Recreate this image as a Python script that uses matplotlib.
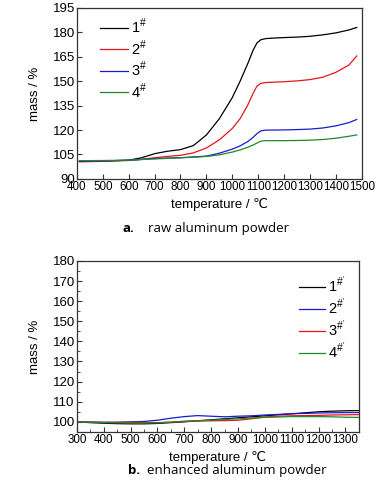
import matplotlib.pyplot as plt
from matplotlib.ticker import MultipleLocator

plt.rcParams['font.family'] = ['Liberation Sans', 'DejaVu Sans']
plt.rcParams['mathtext.fontset'] = 'custom'
plt.rcParams['mathtext.rm'] = 'Liberation Sans'

# panel a: raw aluminum powder
ta = [410, 500, 600, 650, 700, 750, 800, 850, 900, 950, 1000, 1030, 1060, 1080, 1095, 1110, 1130, 1160, 1200, 1250, 1300, 1350, 1400, 1450, 1480]
a1 = [100.8, 101.0, 101.5, 103.0, 105.5, 107.0, 108.0, 110.5, 117.0, 127.0, 140.0, 150.0, 161.0, 169.0, 173.5, 175.5, 176.2, 176.5, 176.8, 177.1, 177.6, 178.5, 179.7, 181.5, 183.0]
a2 = [100.5, 100.8, 101.3, 102.0, 103.0, 103.8, 104.5, 106.0, 109.0, 114.0, 121.0, 127.0, 135.5, 142.5, 147.0, 148.7, 149.2, 149.4, 149.7, 150.2, 151.0, 152.5, 155.5, 160.0, 165.5]
a3 = [100.8, 101.0, 101.5, 102.0, 102.5, 102.8, 103.0, 103.5, 104.0, 105.8, 108.3, 110.3, 113.0, 115.5, 117.8, 119.5, 120.0, 120.0, 120.1, 120.3, 120.6, 121.3, 122.6, 124.6, 126.5]
a4 = [101.2, 101.3, 101.5, 101.9, 102.3, 102.6, 103.0, 103.3, 103.8, 104.8, 106.5, 107.8, 109.5, 110.8, 112.0, 113.2, 113.5, 113.5, 113.5, 113.6, 113.8, 114.2, 115.0, 116.2, 117.0]
labels_a = ['1$^{\\#}$', '2$^{\\#}$', '3$^{\\#}$', '4$^{\\#}$']
colors_a = ['black', '#e8141c', '#1a1ad0', '#1f8a2a']

# panel b: enhanced aluminum powder
tb = [300, 350, 400, 450, 500, 550, 600, 650, 700, 750, 800, 850, 900, 950, 1000, 1050, 1100, 1150, 1200, 1250, 1300, 1350]
b1 = [100.0, 99.6, 99.3, 99.1, 99.0, 99.0, 99.2, 99.6, 100.0, 100.5, 101.0, 101.5, 102.0, 102.5, 103.0, 103.5, 104.0, 104.5, 105.0, 105.3, 105.5, 105.6]
b2 = [100.0, 99.9, 99.8, 99.8, 100.0, 100.2, 100.8, 101.8, 102.6, 103.1, 102.8, 102.5, 102.8, 103.0, 103.4, 103.7, 104.0, 104.2, 104.4, 104.5, 104.6, 104.6]
b3 = [100.0, 99.9, 99.7, 99.7, 99.8, 99.7, 99.6, 99.8, 100.2, 100.4, 100.5, 100.6, 100.8, 101.5, 102.4, 102.8, 103.0, 103.1, 103.2, 103.4, 103.5, 103.6]
b4 = [100.0, 99.8, 99.6, 99.5, 99.4, 99.4, 99.5, 99.9, 100.3, 100.6, 100.8, 101.2, 101.5, 101.9, 102.2, 102.4, 102.6, 102.6, 102.6, 102.5, 102.3, 102.2]
labels_b = ["1$^{\\#'}$", "2$^{\\#'}$", "3$^{\\#'}$", "4$^{\\#'}$"]
colors_b = ['black', '#1a1ad0', '#e8141c', '#1f8a2a']

fig = plt.figure(figsize=(3.9, 4.97), dpi=100)
ax1 = fig.add_axes([0.197, 0.640, 0.731, 0.344])
ax2 = fig.add_axes([0.197, 0.131, 0.723, 0.344])


def style(ax):
    for s in ax.spines.values():
        s.set_color('#333333')
        s.set_linewidth(0.9)
    ax.tick_params(direction='in', which='both', labelsize=9.5, pad=1.5, color='#333333')
    ax.tick_params(axis='x', labelsize=8.4)
    ax.tick_params(which='major', length=3.5)
    ax.tick_params(which='minor', length=2)
    ax.set_xlabel('temperature / ℃', fontsize=9.5, labelpad=3.5)
    ax.set_ylabel('mass / %', fontsize=9.5, labelpad=8)


for ys, c, lab in zip([a1, a2, a3, a4], colors_a, labels_a):
    ax1.plot(ta, ys, color=c, lw=0.9, label=lab)
ax1.set_xlim(400, 1500)
ax1.set_ylim(90, 195)
ax1.xaxis.set_major_locator(MultipleLocator(100))
ax1.yaxis.set_major_locator(MultipleLocator(15))
style(ax1)
ax1.legend(loc='upper left', bbox_to_anchor=(0.035, 1.025), frameon=False, fontsize=10.5,
           handlelength=1.9, handletextpad=0.2, labelspacing=0.15)

for ys, c, lab in zip([b1, b2, b3, b4], colors_b, labels_b):
    ax2.plot(tb, ys, color=c, lw=0.9, label=lab)
ax2.set_xlim(300, 1350)
ax2.set_ylim(95, 180)
ax2.xaxis.set_major_locator(MultipleLocator(100))
ax2.xaxis.set_minor_locator(MultipleLocator(50))
ax2.yaxis.set_major_locator(MultipleLocator(10))
ax2.yaxis.set_minor_locator(MultipleLocator(5))
style(ax2)
ax2.legend(loc='upper right', bbox_to_anchor=(1.0, 0.995), frameon=False, fontsize=10.5,
           handlelength=1.8, handletextpad=0.2, labelspacing=0.15)

cap = ['Open Sans', 'DejaVu Sans']
fig.text(0.313, 0.541, 'a.', fontsize=9.5, fontweight='bold', ha='left', va='center', family=cap)
fig.text(0.38, 0.541, 'raw aluminum powder', fontsize=9.5, ha='left', va='center', family=cap)
fig.text(0.328, 0.054, 'b.', fontsize=9.5, fontweight='bold', ha='left', va='center', family=cap)
fig.text(0.377, 0.054, 'enhanced aluminum powder', fontsize=9.5, ha='left', va='center', family=cap)

fig.savefig('out.png', dpi=100)
